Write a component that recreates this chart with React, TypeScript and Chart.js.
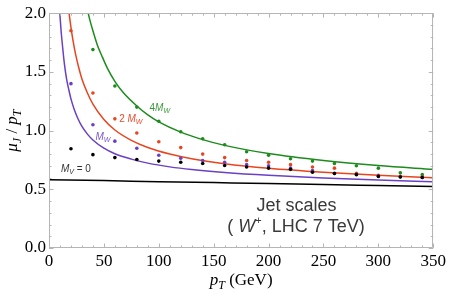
import React, { useEffect, useRef } from "react";
import { Chart, registerables } from "chart.js";
Chart.register(...registerables);

const X_MIN = 0, X_MAX = 350, Y_MIN = 0, Y_MAX = 2;
const X_STEP = 50, Y_STEP = 0.5;
const X_MINOR = 10, Y_MINOR = 0.1;

// Monte Carlo points (dots)
const dotX = [20, 40, 60, 80, 100, 120, 140, 160, 180, 200, 220, 240, 260, 280, 300, 320, 340];
const dotsMV0 = [0.846, 0.795, 0.77, 0.754, 0.74, 0.73, 0.72, 0.703, 0.69, 0.68, 0.67, 0.645, 0.635, 0.625, 0.61, 0.605, 0.6];
const dotsMW = [1.4, 1.05, 0.91, 0.85, 0.79, 0.765, 0.745, 0.73, 0.71, 0.7, 0.68, 0.66, 0.636, 0.628, 0.613, 0.607, 0.6];
const dots2MW = [1.85, 1.32, 1.1, 0.98, 0.905, 0.855, 0.8, 0.77, 0.745, 0.73, 0.71, 0.69, 0.68, 0.636, 0.62, 0.61, 0.605];
const dots4MW = [null, 1.69, 1.38, 1.2, 1.08, 0.99, 0.93, 0.88, 0.82, 0.79, 0.76, 0.74, 0.72, 0.7, 0.68, 0.64, 0.625];

// Curves
const curveMV0X = [0, 50, 100, 150, 200, 250, 300, 350];
const curveMV0Y = [0.582, 0.574, 0.565, 0.557, 0.549, 0.54, 0.532, 0.524];

const curveMWX = [9, 10, 11, 12, 14, 16, 18, 20, 23, 26, 30, 35, 40, 50, 60, 75, 90, 110, 130, 160, 200, 250, 300, 350];
const curveMWY = [2.14, 1.98, 1.85, 1.75, 1.57, 1.44, 1.35, 1.27, 1.18, 1.11, 1.035, 0.97, 0.92, 0.85, 0.803, 0.757, 0.723, 0.691, 0.668, 0.643, 0.619, 0.597, 0.579, 0.564];

const curve2MWX = [18, 19, 20, 22, 24, 27, 30, 35, 40, 50, 60, 75, 90, 110, 130, 160, 200, 250, 300, 350];
const curve2MWY = [2.02, 1.95, 1.88, 1.76, 1.66, 1.54, 1.44, 1.32, 1.225, 1.094, 1.005, 0.917, 0.856, 0.8, 0.76, 0.718, 0.679, 0.645, 0.619, 0.598];

const curve4MWX = [35, 37, 40, 44, 48, 53, 60, 68, 80, 90, 100, 120, 140, 160, 200, 250, 300, 350];
const curve4MWY = [2.03, 1.95, 1.85, 1.73, 1.64, 1.535, 1.42, 1.32, 1.21, 1.134, 1.075, 0.987, 0.923, 0.874, 0.804, 0.745, 0.702, 0.67];

const COLORS = {
  mv0: "#000000",
  mw: "#6a40c4",
  m2w: "#e8451e",
  m4w: "#1d8c1d",
};
const LABEL_COLORS = {
  mv0: "#333333",
  mw: "#7b55cc",
  m2w: "#ea4a2a",
  m4w: "#3a983a",
};

const SERIF = '"Liberation Serif", "DejaVu Serif", serif';
const SANS = '"Liberation Sans", Arial, sans-serif';

type Seg = { t: string; f: string; dy?: number };

function segWidth(ctx: CanvasRenderingContext2D, segs: Seg[]) {
  let w = 0;
  for (const s of segs) {
    ctx.font = s.f;
    w += ctx.measureText(s.t).width;
  }
  return w;
}

function drawRich(ctx: CanvasRenderingContext2D, segs: Seg[], x: number, y: number) {
  const w = segWidth(ctx, segs);
  let cx = x - w / 2;
  ctx.textAlign = "left";
  ctx.textBaseline = "alphabetic";
  for (const s of segs) {
    ctx.font = s.f;
    ctx.fillText(s.t, cx, y + (s.dy || 0));
    cx += ctx.measureText(s.t).width;
  }
}

// label anchors in data coordinates (center x, baseline y)
const labelMV0 = { x: 24.5, y: 0.647 };
const labelMW = { x: 49.1, y: 0.916 };
const label2MW = { x: 74.5, y: 1.076 };
const label4MW = { x: 100.9, y: 1.168 };
const labelJet1 = { x: 225.5, y: 0.319 };
const labelJet2 = { x: 225, y: 0.134 };

const decorPlugin = {
  id: "decor",
  afterDraw(chart: any) {
    const { ctx, chartArea: a, scales } = chart;
    const xs = scales.x, ys = scales.y;
    ctx.save();
    // frame
    ctx.strokeStyle = "#b5b5b5";
    ctx.lineWidth = 1;
    ctx.beginPath();
    ctx.rect(Math.round(a.left) + 0.5, Math.round(a.top) + 0.5, Math.round(a.right - a.left) - 1, Math.round(a.bottom - a.top) - 1);
    ctx.stroke();
    // ticks
    ctx.beginPath();
    for (let v = X_MIN; v <= X_MAX + 1e-9; v += X_MINOR) {
      const major = Math.abs(v / X_STEP - Math.round(v / X_STEP)) < 1e-6;
      const len = major ? 4.5 : 2.5;
      const px = Math.round(xs.getPixelForValue(v)) + 0.5;
      ctx.moveTo(px, a.bottom);
      ctx.lineTo(px, a.bottom - len);
      ctx.moveTo(px, a.top);
      ctx.lineTo(px, a.top + len);
    }
    for (let i = 0; i <= Math.round((Y_MAX - Y_MIN) / Y_MINOR); i++) {
      const v = Y_MIN + i * Y_MINOR;
      const major = i % Math.round(Y_STEP / Y_MINOR) === 0;
      const len = major ? 4.5 : 2.5;
      const py = Math.round(ys.getPixelForValue(v)) + 0.5;
      ctx.moveTo(a.left, py);
      ctx.lineTo(a.left + len, py);
      ctx.moveTo(a.right, py);
      ctx.lineTo(a.right - len, py);
    }
    ctx.stroke();

    // curve labels
    const P = (p: { x: number; y: number }) => [xs.getPixelForValue(p.x), ys.getPixelForValue(p.y)];
    const itl = (s: number) => `italic ${s}px ${SANS}`;
    const reg = (s: number) => `${s}px ${SANS}`;

    let [lx, ly] = P(labelMV0);
    ctx.fillStyle = LABEL_COLORS.mv0;
    drawRich(ctx, [{ t: "M", f: itl(10) }, { t: "V", f: itl(7), dy: 2 }, { t: " = 0", f: reg(10) }], lx, ly);

    [lx, ly] = P(labelMW);
    ctx.fillStyle = LABEL_COLORS.mw;
    drawRich(ctx, [{ t: "M", f: itl(10) }, { t: "W", f: itl(7), dy: 2 }], lx, ly);

    [lx, ly] = P(label2MW);
    ctx.fillStyle = LABEL_COLORS.m2w;
    drawRich(ctx, [{ t: "2 ", f: reg(10) }, { t: "M", f: itl(10) }, { t: "W", f: itl(7), dy: 2 }], lx, ly);

    [lx, ly] = P(label4MW);
    ctx.fillStyle = LABEL_COLORS.m4w;
    drawRich(ctx, [{ t: "4", f: reg(10) }, { t: "M", f: itl(10) }, { t: "W", f: itl(7), dy: 2 }], lx, ly);

    // Jet scales text
    ctx.fillStyle = "#3a3a3a";
    [lx, ly] = P(labelJet1);
    drawRich(ctx, [{ t: "Jet scales", f: reg(18) }], lx, ly);
    [lx, ly] = P(labelJet2);
    drawRich(
      ctx,
      [
        { t: "( ", f: reg(18) },
        { t: "W", f: itl(18) },
        { t: "+", f: reg(11), dy: -8 },
        { t: ", LHC 7 TeV)", f: reg(18) },
      ],
      lx,
      ly
    );

    // axis titles
    ctx.fillStyle = "#000";
    const si = (s: number) => `italic ${s}px ${SERIF}`;
    const sr = (s: number) => `${s}px ${SERIF}`;
    drawRich(ctx, [{ t: "p", f: si(17) }, { t: "T", f: si(12), dy: 4 }, { t: " (GeV)", f: sr(17) }], (a.left + a.right) / 2, 285);

    ctx.save();
    ctx.translate(17, (a.top + a.bottom) / 2);
    ctx.rotate(-Math.PI / 2);
    drawRich(
      ctx,
      [
        { t: "μ", f: si(17) },
        { t: "J", f: si(12), dy: 4 },
        { t: " / ", f: sr(17) },
        { t: "p", f: si(17) },
        { t: "T", f: si(12), dy: 4 },
      ],
      0,
      0
    );
    ctx.restore();
    ctx.restore();
  },
};

export default function App() {
  const ref = useRef<HTMLCanvasElement | null>(null);
  useEffect(() => {
    document.body.style.margin = "0";
    const canvas = ref.current!;
    const pts = (xs: number[], ys: (number | null)[]) => xs.map((x, i) => ({ x, y: ys[i] }));
    const curve = (xs: number[], ys: number[], color: string) => ({
      data: pts(xs, ys),
      borderColor: color,
      backgroundColor: color,
      borderWidth: 1.5,
      pointRadius: 0,
      showLine: true,
      tension: 0.4,
      cubicInterpolationMode: "monotone" as const,
      clip: 0,
      order: 2,
    });
    const dots = (ys: (number | null)[], color: string) => ({
      data: pts(dotX, ys),
      borderColor: color,
      backgroundColor: color,
      pointRadius: 1.8,
      pointBorderWidth: 0,
      showLine: false,
      clip: 0,
      order: 1,
    });
    const chart = new Chart(canvas, {
      type: "line",
      data: {
        datasets: [
          curve(curveMV0X, curveMV0Y, COLORS.mv0),
          curve(curveMWX, curveMWY, COLORS.mw),
          curve(curve2MWX, curve2MWY, COLORS.m2w),
          curve(curve4MWX, curve4MWY, COLORS.m4w),
          dots(dotsMV0, COLORS.mv0),
          dots(dotsMW, COLORS.mw),
          dots(dots2MW, COLORS.m2w),
          dots(dots4MW, COLORS.m4w),
        ] as any,
      },
      options: {
        animation: false,
        responsive: false,
        devicePixelRatio: 1,
        layout: { padding: { top: 10, right: 15, left: 0, bottom: 0 } },
        plugins: { legend: { display: false }, tooltip: { enabled: false } },
        scales: {
          x: {
            type: "linear",
            min: X_MIN,
            max: X_MAX,
            grid: { display: false, drawTicks: false },
            border: { display: false },
            ticks: {
              stepSize: X_STEP,
              color: "#000",
              padding: 3,
              maxRotation: 0,
              font: { family: SERIF, size: 17 },
            },
            afterFit: (s: any) => {
              s.height = 46;
            },
          },
          y: {
            type: "linear",
            min: Y_MIN,
            max: Y_MAX,
            grid: { display: false, drawTicks: false },
            border: { display: false },
            ticks: {
              stepSize: Y_STEP,
              color: "#000",
              padding: 3,
              font: { family: SERIF, size: 17 },
              callback: (v: any) => Number(v).toFixed(1),
            },
            afterFit: (s: any) => {
              s.width = 49;
            },
          },
        },
      },
      plugins: [decorPlugin],
    });
    return () => chart.destroy();
  }, []);
  return (
    <div style={{ width: 449, height: 294, background: "#fff" }}>
      <canvas ref={ref} width={449} height={294} style={{ width: 449, height: 294, display: "block" }} />
    </div>
  );
}
